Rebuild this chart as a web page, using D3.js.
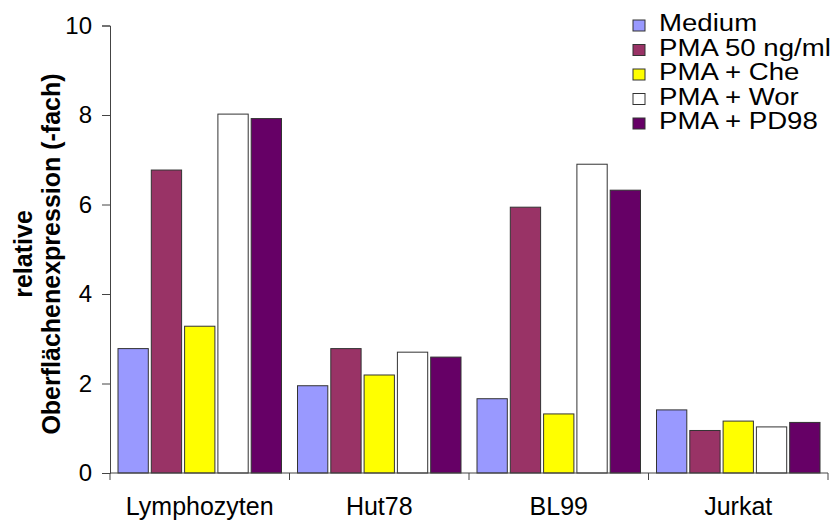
<!DOCTYPE html>
<html>
<head>
<meta charset="utf-8">
<script src="https://cdn.jsdelivr.net/npm/d3@7"></script>
<style>
  body { margin: 0; background: #fff; }
  svg { font-family: "Liberation Sans", Arial, sans-serif; }
</style>
</head>
<body>
<svg width="838" height="521"></svg>
<script>
const categories = ["Lymphozyten", "Hut78", "BL99", "Jurkat"];
const series = ["Medium", "PMA 50 ng/ml", "PMA + Che", "PMA + Wor", "PMA + PD98"];
const colors = ["#9999ff", "#993366", "#ffff00", "#ffffff", "#660066"];
// values per series, one per category
const medium = [2.78, 1.95, 1.66, 1.41];
const pma    = [6.77, 2.78, 5.94, 0.95];
const che    = [3.28, 2.19, 1.32, 1.16];
const wor    = [8.02, 2.70, 6.90, 1.03];
const pd98   = [7.92, 2.59, 6.32, 1.13];
const yTicks = [0, 2, 4, 6, 8, 10];

const values = [medium, pma, che, wor, pd98];

const svg = d3.select("svg"),
      plotLeft = 110, plotRight = 828, plotTop = 25.5, plotBottom = 473;

const x0 = d3.scaleBand().domain(categories).range([plotLeft, plotRight]).paddingInner(0).paddingOuter(0);
const x1 = d3.scaleBand().domain(series).range([8, x0.bandwidth() - 8]).paddingInner(0.09);
const y = d3.scaleLinear().domain([0, 10]).range([plotBottom, plotTop]);

// bars
const groups = svg.selectAll("g.cat")
  .data(categories)
  .join("g")
    .attr("class", "cat")
    .attr("transform", d => `translate(${x0(d)},0)`);

groups.selectAll("rect")
  .data((c, ci) => series.map((s, si) => ({ s, si, v: values[si][ci] })))
  .join("rect")
    .attr("x", d => x1(d.s))
    .attr("y", d => y(d.v))
    .attr("width", x1.bandwidth())
    .attr("height", d => plotBottom - y(d.v))
    .attr("fill", d => colors[d.si])
    .attr("stroke", "#333")
    .attr("stroke-width", 1);

// y axis
const yAxis = d3.axisLeft(y).tickValues(yTicks).tickSize(8).tickPadding(10);
const gy = svg.append("g").attr("transform", `translate(${plotLeft},0)`).call(yAxis);
gy.selectAll("text").attr("font-size", 24).attr("font-family", "Liberation Sans, Arial").attr("fill", "#000");
gy.selectAll("line, path").attr("stroke", "#444");

// x axis
const gx = svg.append("g").attr("transform", `translate(0,${plotBottom})`);
gx.append("line").attr("x1", plotLeft).attr("x2", plotRight).attr("stroke", "#444");
gx.selectAll("line.tick")
  .data(categories.concat(["end"]))
  .join("line")
    .attr("class", "tick")
    .attr("x1", (d, i) => i < categories.length ? x0(d) : plotRight)
    .attr("x2", (d, i) => i < categories.length ? x0(d) : plotRight)
    .attr("y1", 0).attr("y2", 7)
    .attr("stroke", "#444");
gx.selectAll("text")
  .data(categories)
  .join("text")
    .attr("x", d => x0(d) + x0.bandwidth() / 2)
    .attr("y", 42)
    .attr("text-anchor", "middle")
    .attr("font-size", 25)
    .text(d => d);

// y title
const title = svg.append("text")
  .attr("transform", "translate(0,254) rotate(-90)")
  .attr("text-anchor", "middle")
  .attr("font-weight", "bold")
  .attr("font-size", 25);
title.append("tspan").attr("x", 0).attr("y", 32).text("relative");
title.append("tspan").attr("x", 0).attr("y", 60).text("Oberflächenexpression (-fach)");

// legend
const legend = svg.append("g").attr("transform", "translate(633,0)");
const items = legend.selectAll("g")
  .data(series)
  .join("g")
    .attr("transform", (d, i) => `translate(0,${31 + i * 24.5})`);
items.append("rect")
  .attr("x", 0).attr("y", -11).attr("width", 12).attr("height", 11)
  .attr("fill", (d, i) => colors[i])
  .attr("stroke", "#333");
items.append("text")
  .attr("transform", "translate(26,0) scale(1.15,1)")
  .attr("font-size", 24)
  .text(d => d);
</script>
</body>
</html>
